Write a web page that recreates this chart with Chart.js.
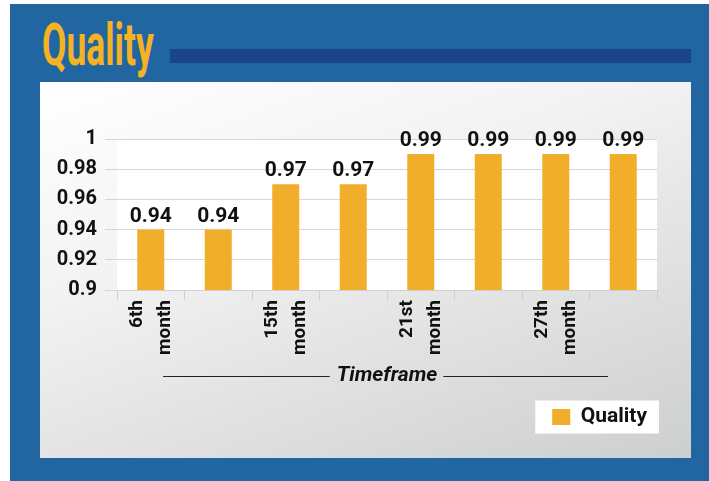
<!DOCTYPE html>
<html>
<head>
<meta charset="utf-8">
<title>Quality</title>
<script src="https://cdn.jsdelivr.net/npm/chart.js@4.4.0/dist/chart.umd.min.js"></script>
<style>
  body { margin: 0; width: 709px; height: 481px; background: #fff; position: relative; overflow: hidden; font-family: Roboto, sans-serif; }
  #frame { position: absolute; left: 10px; top: 4px; right: 0; bottom: 0; background: #2266a1; }
  #heading { position: absolute; left: 42px; top: 15px; margin: 0; font: bold 59px/59px Roboto, sans-serif; color: #f5b223; transform: scaleX(0.6); transform-origin: 0 0; white-space: nowrap; }
  #rule { position: absolute; left: 170px; top: 49px; width: 521px; height: 14px; background: #1b4589; }
  #panel { position: absolute; left: 40px; top: 82px; width: 651px; height: 376px; background: linear-gradient(160deg, #ffffff 0%, #f3f3f3 35%, #cdcece 100%); }
  canvas { position: absolute; left: 0; top: 0; }
</style>
</head>
<body>
<div id="frame"></div>
<div id="heading">Quality</div>
<div id="rule"></div>
<div id="panel"></div>
<canvas id="c" width="709" height="481"></canvas>
<script>
// values
const months = ["6th month", "", "15th month", "", "21st month", "", "27th month", ""];
const quality = [0.94, 0.94, 0.97, 0.97, 0.99, 0.99, 0.99, 0.99];
const yTicks = [0.9, 0.92, 0.94, 0.96, 0.98, 1];

Chart.defaults.font.family = 'Roboto, sans-serif';

// white plot area + white box behind the legend
const backdrop = {
  id: 'backdrop',
  beforeDraw(chart) {
    const {ctx, chartArea: a, legend} = chart;
    ctx.save();
    ctx.fillStyle = '#ffffff';
    ctx.fillRect(a.left, a.top, a.right - a.left, a.bottom - a.top);
    if (legend && legend.lineWidths) {
      const x0 = legend.right - legend.lineWidths[0];
      const y0 = legend.top + 10;
      ctx.fillRect(x0 - 17, y0 - 6, legend.lineWidths[0] + 19, 21 + 12);
    }
    ctx.restore();
  }
};

// numbers on top of the bars
const barValues = {
  id: 'barValues',
  afterDatasetsDraw(chart) {
    const {ctx} = chart;
    const meta = chart.getDatasetMeta(0);
    ctx.save();
    ctx.font = 'bold 21px Roboto, sans-serif';
    ctx.fillStyle = '#111';
    ctx.textAlign = 'center';
    ctx.textBaseline = 'alphabetic';
    meta.data.forEach((bar, i) => {
      ctx.fillText(quality[i].toFixed(2), bar.x, bar.y - 8);
    });
    ctx.restore();
  }
};

// rules either side of the axis title
const titleRules = {
  id: 'titleRules',
  afterDraw(chart) {
    const {ctx} = chart;
    const xs = chart.scales.x;
    const cx = (xs.left + xs.right) / 2;
    const y = Math.round(xs.bottom - 8 - 21 * 1.2 / 2) + 0.5;
    ctx.save();
    ctx.font = 'italic bold 21px Roboto, sans-serif';
    const w = ctx.measureText('Timeframe').width;
    ctx.strokeStyle = '#222';
    ctx.lineWidth = 1.2;
    ctx.beginPath();
    ctx.moveTo(cx - 224, y);
    ctx.lineTo(cx - w / 2 - 7, y);
    ctx.moveTo(cx + w / 2 + 6, y);
    ctx.lineTo(cx + 221, y);
    ctx.stroke();
    ctx.restore();
  }
};

const ctx = document.getElementById('c').getContext('2d');
new Chart(ctx, {
  type: 'bar',
  data: {
    labels: months,
    datasets: [{
      label: 'Quality',
      data: quality,
      backgroundColor: '#f1ae2b',
      barPercentage: 0.4,
      categoryPercentage: 1
    }]
  },
  options: {
    responsive: false,
    animation: false,
    layout: { padding: { left: 57, right: 52, top: 139, bottom: 43.5 } },
    plugins: {
      legend: {
        position: 'bottom',
        align: 'end',
        labels: { boxWidth: 18, boxHeight: 16, padding: 10, color: '#111', font: { size: 21, weight: 'bold' } }
      },
      tooltip: { enabled: false }
    },
    scales: {
      x: {
        grid: { display: true, drawOnChartArea: false, tickLength: 10, color: '#cfcfcf', offset: true },
        border: { color: '#d0d0d0' },
        ticks: {
          minRotation: 90,
          maxRotation: 90,
          autoSkip: false,
          padding: 0,
          labelOffset: -14,
          color: '#111',
          font: { size: 19, weight: 'bold', lineHeight: 1.5 },
          callback: function(v, i) { return months[i].split(' '); }
        },
        title: {
          display: true,
          text: 'Timeframe',
          color: '#111',
          font: { size: 21, weight: 'bold', style: 'italic' },
          padding: { top: 0, bottom: 8 }
        },
        afterFit: function(s) { s.height = 106.5; s.paddingLeft = 0; s.paddingRight = 0; }
      },
      y: {
        min: yTicks[0],
        max: yTicks[yTicks.length - 1],
        afterBuildTicks: function(s) { s.ticks = yTicks.map(v => ({ value: v })); },
        grid: { color: '#d6d6d6', tickLength: 12 },
        border: { display: false },
        ticks: {
          padding: 8,
          color: '#111',
          font: { size: 20, weight: 'bold' },
          callback: v => String(+v.toFixed(2))
        },
        afterFit: function(s) { s.width = 60; }
      }
    }
  },
  plugins: [backdrop, barValues, titleRules]
});
</script>
</body>
</html>
